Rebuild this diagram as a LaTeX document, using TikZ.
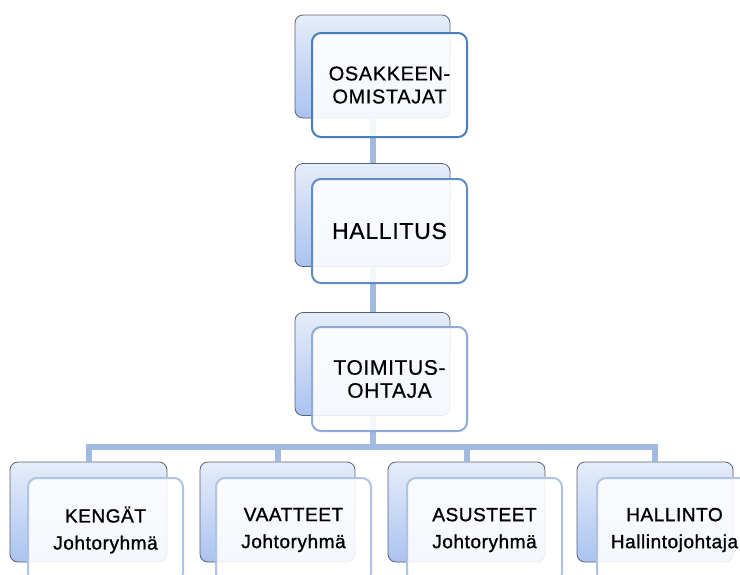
\documentclass[tikz,border=0pt]{standalone}
\usepackage{fontspec}
\setmainfont{Liberation Sans}
\newfontfamily\topfont[LetterSpace=3,FakeBold=0.5]{Liberation Sans}
\newfontfamily\botfont[LetterSpace=3,FakeBold=1.2]{Liberation Sans}
\usetikzlibrary{positioning}
\definecolor{backtop}{HTML}{E6EDFA}
\definecolor{backbot}{HTML}{AAC3F0}
\definecolor{backline}{HTML}{5A5F6A}
\definecolor{edgeA}{HTML}{4A7EBB}
\definecolor{edgeB}{HTML}{5D8CC8}
\definecolor{edgeC}{HTML}{8EAAD6}
\definecolor{edgeD}{HTML}{AFC3E2}
\definecolor{conn}{HTML}{A2BADF}
\tikzset{
  backbox/.style={rectangle, rounded corners=8pt, draw=backline, line width=0.8pt,
    top color=backtop, bottom color=backbot, inner sep=0pt,
    minimum width=#1, minimum height=103pt},
  frontbox/.style={rectangle, rounded corners=9pt, draw=#1, line width=2pt,
    fill=white, fill opacity=0.88, text opacity=1, inner sep=0pt,
    minimum width=155pt, minimum height=104pt, align=center, text=black},
  connector/.style={draw=conn, line width=6pt, line join=miter},
}
\begin{document}
\begin{tikzpicture}[x=1pt,y=-1pt]
\useasboundingbox (0,0) rectangle (740,574);
\clip (0,0) rectangle (740,574);
% back boxes
\node[backbox=155pt] (b1) at (372.5,66.5) {};
\node[backbox=155pt] (b2) at (372.5,215) {};
\node[backbox=155pt] (b3) at (372.5,364) {};
\node[backbox=157pt, minimum height=100pt] (k1) at (88.5,512) {};
\node[backbox=155pt, minimum height=100pt] (k2) at (277.5,512) {};
\node[backbox=157pt, minimum height=100pt] (k3) at (466.5,512) {};
\node[backbox=156pt, minimum height=100pt] (k4) at (655,512) {};
\coordinate (busy) at (0,447);
% connectors
\draw[connector] (b1.south) -- (b2.north);
\draw[connector] (b2.south) -- (b3.north);
\draw[connector] (b3.south) -- (b3.south |- busy) -| (k1.north);
\draw[connector] (b3.south |- busy) -| (k2.north);
\draw[connector] (b3.south |- busy) -| (k3.north);
\draw[connector] (b3.south |- busy) -| (k4.north);
% front boxes
\node[frontbox=edgeA, font=\topfont\fontsize{20}{23}\selectfont] (f1) at (389.5,85) {OSAKKEEN-\\OMISTAJAT};
\node[frontbox=edgeB, font=\topfont\fontsize{23}{26}\selectfont] (f2) at (389.5,231) {HALLITUS};
\node[frontbox=edgeC, font=\topfont\fontsize{21}{23}\selectfont] (f3) at (389.5,379) {TOIMITUS-\\OHTAJA};
\node[frontbox=edgeD, font=\botfont\fontsize{19}{27}\selectfont] (g1) at (105.5,530) {KENGÄT\\Johtoryhmä};
\node[frontbox=edgeD, font=\botfont\fontsize{19}{27}\selectfont] (g2) at (293.5,530) {VAATTEET\\Johtoryhmä};
\node[frontbox=edgeD, font=\botfont\fontsize{19}{27}\selectfont] (g3) at (484.5,530) {ASUSTEET\\Johtoryhmä};
\node[frontbox=edgeD, font=\botfont\fontsize{19}{27}\selectfont] (g4) at (674.5,530) {HALLINTO\\Hallintojohtaja};
\end{tikzpicture}
\end{document}
